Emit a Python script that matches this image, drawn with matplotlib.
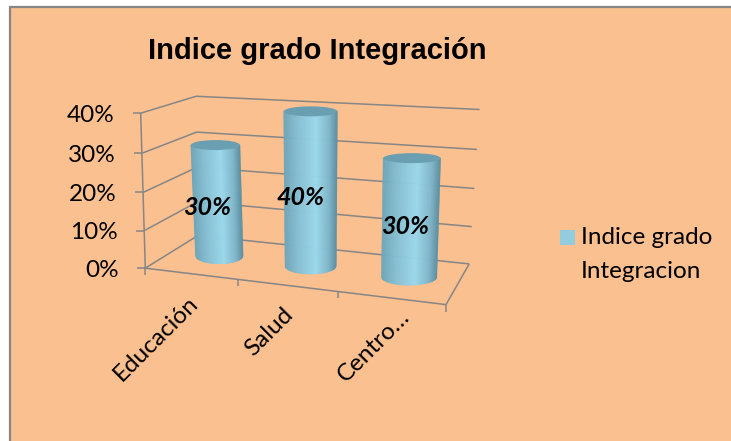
import numpy as np
import matplotlib
matplotlib.use('Agg')
import matplotlib.pyplot as plt
from matplotlib.collections import PolyCollection
from matplotlib.colors import LinearSegmentedColormap
from matplotlib.patches import Ellipse, Rectangle

categories = ['Educación', 'Salud', 'Centro…']
values = [0.30, 0.40, 0.30]
value_ticks = [0.0, 0.1, 0.2, 0.3, 0.4]
title = 'Indice grado Integración'
legend_lines = ['Indice grado', 'Integracion']

BG = '#FAC090'
GRID = '#868686'
FONT = 'Lato'
FS = 17.5

# 3D box corners (category, value, depth) against where they land in the image
box = [(0, 0, 0), (1, 0, 0), (2, 0, 0), (3, 0, 0), (0, .4, 0),
       (0, 0, 1), (0, .4, 1), (3, 0, 1), (3, .4, 1)]
img = [(148, 267), (238, 279), (337, 292), (446, 306), (138, 113),
       (195, 237), (199, 96), (470, 262), (479, 110)]

# fit a projective camera so the perspective comes out right
A = []
b = []
for (x, y, z), (u, v) in zip(box, img):
    A.append([x, y, z, 1, 0, 0, 0, 0, -u*x, -u*y, -u*z])
    A.append([0, 0, 0, 0, x, y, z, 1, -v*x, -v*y, -v*z])
    b += [u, v]
P = np.append(np.linalg.lstsq(np.array(A, float), np.array(b, float), rcond=None)[0], 1).reshape(3, 4)


def proj(x, y, z):
    p = P @ np.array([x, y, z, 1.0])
    return p[:2] / p[2]


fig = plt.figure(figsize=(7.31, 4.41), dpi=100, facecolor='white')
ax = fig.add_axes([0, 0, 1, 1])
ax.set_xlim(0, 731)
ax.set_ylim(441, 0)
ax.axis('off')

# chart area runs off the right and bottom of the image
ax.add_patch(Rectangle((9.5, 6.5), 740, 450, fc=BG, ec=GRID, lw=1.6))


def seg(pts, **kw):
    xy = np.array(pts)
    ax.plot(xy[:, 0], xy[:, 1], color=GRID, lw=1.1, solid_capstyle='butt', **kw)


# walls, floor and axes
for v in value_ticks:
    seg([proj(0, v, 0), proj(0, v, 1), proj(3, v, 1)])
    a = proj(0, v, 0)
    seg([a, a - [8, 0]])
    ax.text(a[0] - 26, a[1] + 2, '%d%%' % round(v * 100), ha='right', va='center',
            fontsize=FS, family=FONT, color='black')
seg([proj(0, 0, 0), proj(0, .4, 0)])
seg([proj(0, 0, 0), proj(3, 0, 0), proj(3, 0, 1)])
for i in range(4):
    a = proj(i, 0, 0)
    seg([a, a + [0, 7]])

cmap = LinearSegmentedColormap.from_list('cyl', [
    (0.0, '#6FA6B9'), (0.25, '#86BFD3'), (0.6, '#9BD8ED'),
    (0.85, '#7FB6CA'), (1.0, '#5B8FA2')])

HALF = 0.27
LEAN = 3.0
s = np.linspace(-1, 1, 71)
c = np.sqrt(1 - s ** 2)
label_offset = [(-9, 6), (-9, 7), (-4, 8)]
label_pos = [(195, 300), (290, 311), (406, 313)]

for i, val in enumerate(values):
    cx = i + 0.5
    bot = proj(cx, 0, 0.5) + [LEAN, 0]
    top = proj(cx, val, 0.5)
    r_bot = (proj(cx + HALF, 0, .5)[0] - proj(cx - HALF, 0, .5)[0]) / 2
    r_top = (proj(cx + HALF, val, .5)[0] - proj(cx - HALF, val, .5)[0]) / 2
    h_bot, h_top = 8.0, 5.0
    polys = []
    cols = []
    for k in range(len(s) - 1):
        polys.append([(top[0] + r_top * s[k], top[1]),
                      (top[0] + r_top * s[k + 1], top[1]),
                      (bot[0] + r_bot * s[k + 1], bot[1] + h_bot * c[k + 1]),
                      (bot[0] + r_bot * s[k], bot[1] + h_bot * c[k])])
        cols.append(cmap((s[k] + 1) / 2))
    ax.add_collection(PolyCollection(polys, facecolors=cols, edgecolors=cols, linewidths=0.4, zorder=3))
    ax.add_patch(Ellipse(top, 2 * r_top, 2 * h_top, fc='#6A9FB1', ec='none', zorder=4))
    mid = proj(cx, val / 2, 0.5)
    ax.text(mid[0] + label_offset[i][0], mid[1] + label_offset[i][1], '%d%%' % round(val * 100),
            ha='center', va='center', fontsize=18, family=FONT, weight='bold', style='italic',
            color='black', zorder=5)
    ax.text(label_pos[i][0], label_pos[i][1], categories[i], rotation=45, rotation_mode='anchor',
            ha='right', va='center', fontsize=FS, family=FONT, color='black')

ax.text(317, 51, title, ha='center', va='center', fontsize=21, weight='bold',
        family='Liberation Sans', color='black')

# legend
ax.add_patch(Rectangle((560, 230), 15, 15, fc='#93CDDD', ec='none'))
ax.text(581, 238, legend_lines[0], ha='left', va='center', fontsize=FS, family=FONT, color='black')
ax.text(581, 271, legend_lines[1], ha='left', va='center', fontsize=FS, family=FONT, color='black')

fig.savefig('out.png', dpi=100, facecolor='white')
